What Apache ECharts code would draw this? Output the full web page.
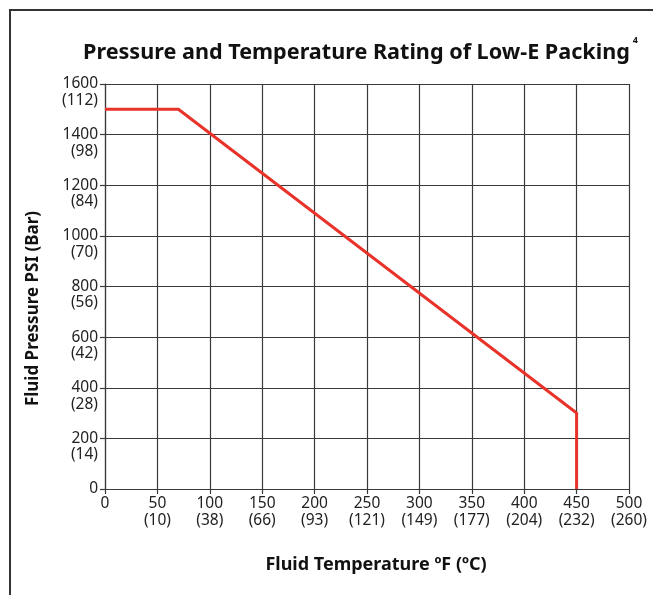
<!DOCTYPE html>
<html>
<head>
<meta charset="utf-8">
<script src="https://cdn.jsdelivr.net/npm/echarts@6/dist/echarts.min.js"></script>
<style>
html,body{margin:0;padding:0;background:#fff;}
#chart{width:653px;height:595px;}
</style>
</head>
<body>
<div id="chart"></div>
<script>
// Data
const tempF = [0, 70, 450, 450];
const pressurePSI = [1500, 1500, 300, 0];
const xTicksF = [0, 50, 100, 150, 200, 250, 300, 350, 400, 450, 500];
const xTicksC = ['', '(10)', '(38)', '(66)', '(93)', '(121)', '(149)', '(177)', '(204)', '(232)', '(260)'];
const yTicksPSI = [0, 200, 400, 600, 800, 1000, 1200, 1400, 1600];
const yTicksBar = ['', '(14)', '(28)', '(42)', '(56)', '(70)', '(84)', '(98)', '(112)'];

const titleText = 'Pressure and Temperature Rating of Low-E Packing';
const titleSup = '4';
const xName = 'Fluid Temperature \u00BAF (\u00BAC)';
const yName = 'Fluid Pressure PSI (Bar)';

const FONT = 'Noto Sans';
const chart = echarts.init(document.getElementById('chart'), null, {renderer: 'canvas'});

const gridColor = '#3a3a3a';

chart.setOption({
  animation: false,
  backgroundColor: '#fff',
  title: {
    text: '{t|' + titleText + '}{s|' + titleSup + '}',
    left: 78,
    top: 31,
    textStyle: {
      rich: {
        t: {fontFamily: FONT, fontWeight: 'bold', fontSize: 21.6, color: '#111', verticalAlign: 'bottom', lineHeight: 28},
        s: {fontFamily: FONT, fontWeight: 'bold', fontSize: 9, color: '#111', verticalAlign: 'top', padding: [0, 0, 8, 3]}
      }
    }
  },
  graphic: [{
    type: 'rect',
    shape: {x: 10, y: 10, width: 800, height: 800},
    style: {fill: null, stroke: '#333', lineWidth: 2},
    silent: true
  }],
  grid: {left: 105, right: 24, top: 84, bottom: 106, containLabel: false},
  xAxis: {
    type: 'value',
    min: 0, max: 500, interval: 50,
    name: xName,
    nameLocation: 'middle',
    nameGap: 67,
    nameTextStyle: {fontFamily: FONT, fontWeight: 'bold', fontSize: 18, color: '#111', padding: [0, 0, 0, 18]},
    axisLine: {show: true, lineStyle: {color: gridColor, width: 1.2}},
    axisTick: {show: true, length: 5, lineStyle: {color: gridColor, width: 1.2}},
    splitLine: {show: true, lineStyle: {color: gridColor, width: 1.2}},
    axisLabel: {
      margin: 6,
      showMinLabel: true, showMaxLabel: true, hideOverlap: false,
      fontFamily: FONT, fontSize: 15.5, color: '#222', lineHeight: 17,
      formatter: function (v) {
        const i = xTicksF.indexOf(v);
        return xTicksC[i] ? v + '\n' + xTicksC[i] : String(v);
      }
    }
  },
  yAxis: {
    type: 'value',
    min: 0, max: 1600, interval: 200,
    name: yName,
    nameLocation: 'middle',
    nameGap: 63,
    nameTextStyle: {fontFamily: FONT, fontWeight: 'bold', fontSize: 17, color: '#111', padding: [0, 44, 0, 0]},
    axisLine: {show: true, lineStyle: {color: gridColor, width: 1.2}},
    axisTick: {show: true, length: 5, lineStyle: {color: gridColor, width: 1.2}},
    splitLine: {show: true, lineStyle: {color: gridColor, width: 1.2}},
    axisLabel: {
      margin: 7,
      showMinLabel: true, showMaxLabel: true, hideOverlap: false,
      fontFamily: FONT, fontSize: 15.5, color: '#222', lineHeight: 16.5,
      formatter: function (v) {
        const i = yTicksPSI.indexOf(v);
        return yTicksBar[i] ? '\n' + v + '\n' + yTicksBar[i] : String(v);
      }
    }
  },
  series: [{
    type: 'line',
    data: tempF.map((t, i) => [t, pressurePSI[i]]),
    showSymbol: false,
    symbol: 'none',
    lineStyle: {color: '#e8332b', width: 3},
    z: 5
  }]
});
</script>
</body>
</html>
